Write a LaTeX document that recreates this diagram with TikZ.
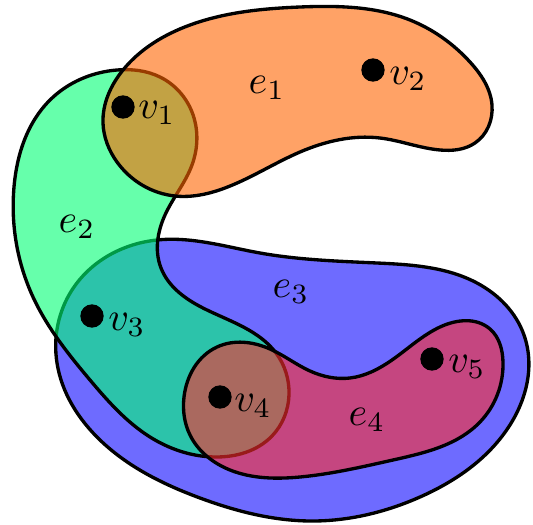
\documentclass[tikz,border=0pt]{standalone}
\usetikzlibrary{hobby}
\definecolor{eone}{RGB}{255,100,0}
\definecolor{etwo}{RGB}{0,255,115}
\definecolor{ethree}{RGB}{13,8,255}
\definecolor{efour}{RGB}{255,45,45}
\tikzset{
  hedge/.style={draw=black, line width=2.5pt, fill opacity=0.6, draw opacity=1},
  vert/.style={circle, fill=black, inner sep=0pt, minimum size=17.5pt},
  lbl/.style={inner sep=0pt, scale=3}
}
\begin{document}
\begin{tikzpicture}[x=0.75pt,y=-0.75pt]
\useasboundingbox (0,0) rectangle (533,525);
% e3
\path[hedge, fill=ethree] plot[closed hobby] coordinates {
 (157,240) (260,253) (377,263) (477,283) (524,335) (508,428) (420,497)
 (310,521) (200,498) (100,440) (57,363) (72,290)};
% e2
\path[hedge, fill=etwo] plot[closed hobby] coordinates {
 (117,70) (50,100) (14,187) (33,297) (90,380) (150,437) (215,457) (272,436)
 (289,395) (276,353) (207,310) (161,268) (165,215) (192,165) (192,112) (160,77)};
% e1
\path[hedge, fill=eone] plot[closed hobby] coordinates {
 (103,123) (123,70) (190,25) (300,7) (410,20) (470,62) (492,105) (475,143)
 (440,150) (380,138) (300,152) (225,188) (175,196) (117,162)};
% e4
\path[hedge, fill=efour] plot[closed hobby] coordinates {
 (184,397) (217,347) (270,349) (310,371) (350,378) (392,360) (440,327)
 (490,329) (503,362) (480,422) (393,460) (300,477) (230,470) (190,435)};
% vertices
\node[vert] (v1) at (123,107) {};
\node[vert] (v2) at (373,70) {};
\node[vert] (v3) at (92,316) {};
\node[vert] (v4) at (220,397) {};
\node[vert] (v5) at (432,359) {};
% labels
\node[lbl] (l1) at (157,113) {$v_1$};
\node[lbl] (l2) at (408,79) {$v_2$};
\node[lbl] (l3) at (127,325) {$v_3$};
\node[lbl] (l4) at (253,406) {$v_4$};
\node[lbl] (l5) at (467,367) {$v_5$};
\node[lbl] (le1) at (267,88) {$e_1$};
\node[lbl] (le2) at (77,227) {$e_2$};
\node[lbl] (le3) at (291,292) {$e_3$};
\node[lbl] (le4) at (367,420) {$e_4$};
\end{tikzpicture}
\end{document}
